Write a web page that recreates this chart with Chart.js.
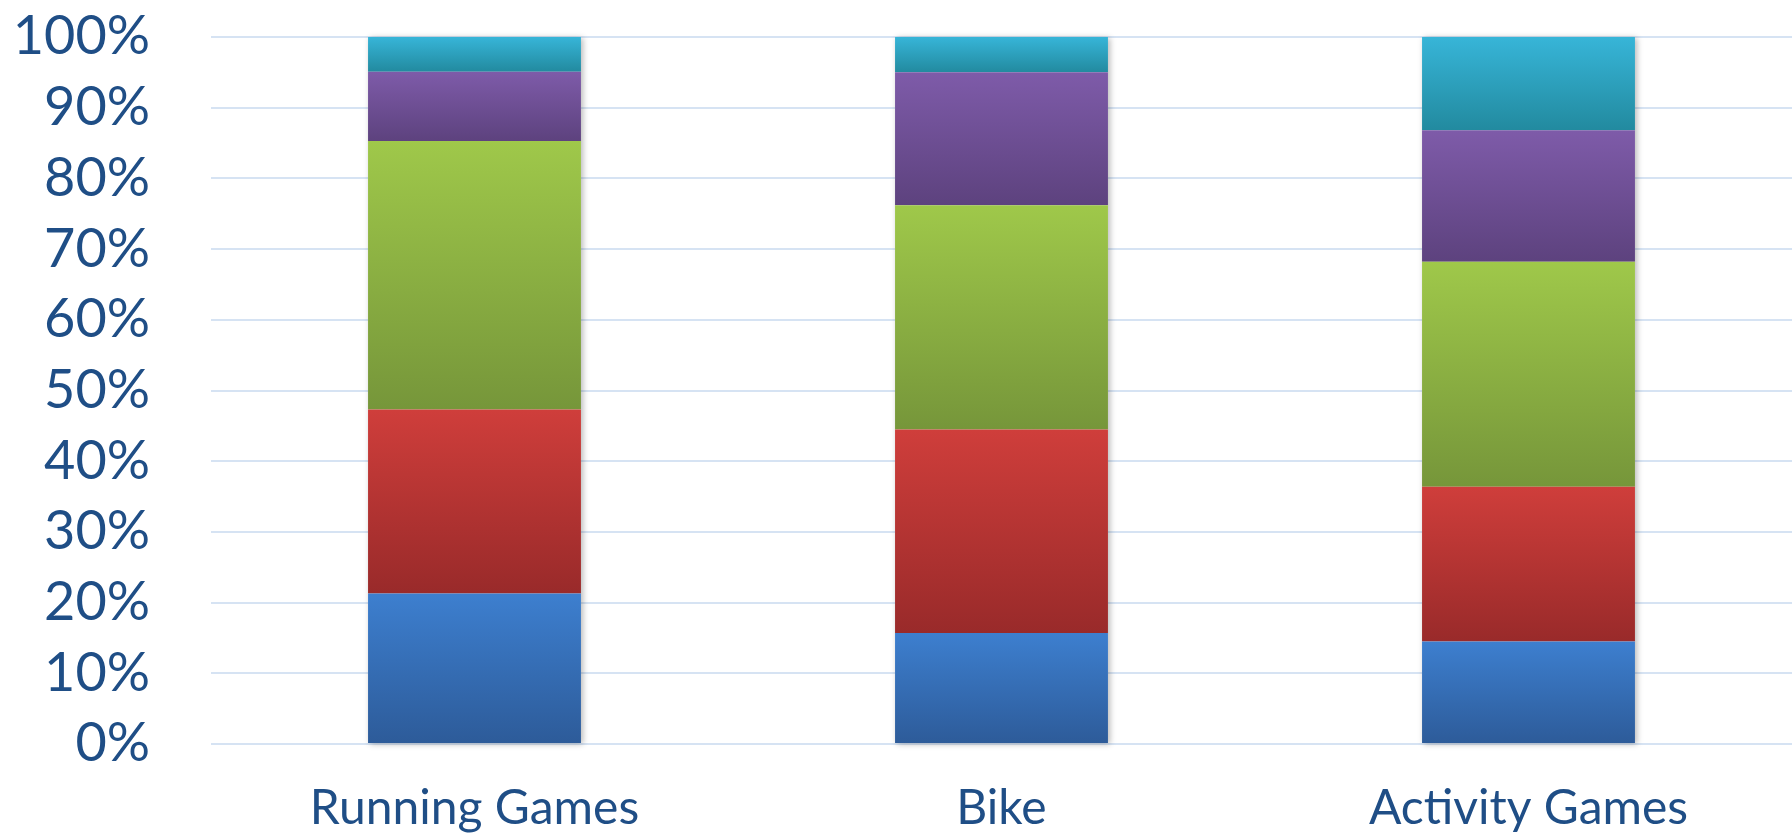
<!DOCTYPE html>
<html>
<head>
<meta charset="utf-8">
<script src="https://cdn.jsdelivr.net/npm/chart.js@4/dist/chart.umd.min.js"></script>
<style>
  html, body { margin: 0; padding: 0; background: #ffffff; }
  #wrap { width: 1792px; height: 840px; }
</style>
</head>
<body>
<div id="wrap"><canvas id="c" width="1792" height="840"></canvas></div>
<script>
// ---- data ----
const categories = ["Running Games", "Bike", "Activity Games"];
const seriesBlue   = [21.3, 15.7, 14.5];
const seriesRed    = [26.0, 28.8, 21.9];
const seriesGreen  = [38.0, 31.7, 31.8];
const seriesPurple = [9.8, 18.8, 18.6];
const seriesCyan   = [4.9, 5.0, 13.2];
const yTickValues  = [0, 10, 20, 30, 40, 50, 60, 70, 80, 90, 100];

// ---- styles ----
const gradients = [
  ["#3d7fcf", "#2d5b99"],
  ["#cf3e3b", "#992a2a"],
  ["#9fc84a", "#76963a"],
  ["#7e5ba9", "#5d427e"],
  ["#37b5d8", "#228a9f"]
];
const allSeries = [seriesBlue, seriesRed, seriesGreen, seriesPurple, seriesCyan];
const textColor = "#1f4e86";
const gridColor = "#d6e3f3";

function makeBg(dsIndex) {
  return function (ctx) {
    const chart = ctx.chart;
    const y = chart.scales && chart.scales.y;
    if (!y || ctx.type !== 'data') return gradients[dsIndex][0];
    const i = ctx.dataIndex;
    let base = 0;
    for (let k = 0; k < dsIndex; k++) base += allSeries[k][i];
    const top = base + allSeries[dsIndex][i];
    const yTop = y.getPixelForValue(top);
    const yBot = y.getPixelForValue(base);
    if (!isFinite(yTop) || !isFinite(yBot) || yTop === yBot) return gradients[dsIndex][0];
    const g = chart.ctx.createLinearGradient(0, yTop, 0, yBot);
    g.addColorStop(0, gradients[dsIndex][0]);
    g.addColorStop(1, gradients[dsIndex][1]);
    return g;
  };
}

const datasets = allSeries.map((s, idx) => ({
  label: "S" + (idx + 1),
  data: s,
  backgroundColor: makeBg(idx),
  borderWidth: 0,
  categoryPercentage: 1.0,
  barPercentage: 0.404
}));

const shadowPlugin = {
  id: 'stackShadow',
  beforeDatasetsDraw(chart) {
    const ctx = chart.ctx;
    const first = chart.getDatasetMeta(0).data;
    const last = chart.getDatasetMeta(datasets.length - 1).data;
    ctx.save();
    ctx.shadowColor = 'rgba(0,0,0,0.28)';
    ctx.shadowBlur = 6;
    ctx.shadowOffsetX = 2;
    ctx.shadowOffsetY = 1;
    ctx.fillStyle = '#ffffff';
    for (let i = 0; i < first.length; i++) {
      const b = first[i].getProps(['x', 'width', 'base'], true);
      const t = last[i].getProps(['y'], true);
      ctx.fillRect(b.x - b.width / 2, t.y, b.width, b.base - t.y);
    }
    ctx.restore();
  }
};

new Chart(document.getElementById('c'), {
  type: 'bar',
  data: { labels: categories, datasets: datasets },
  plugins: [shadowPlugin],
  options: {
    responsive: false,
    animation: false,
    layout: { padding: { top: 37, right: 0, bottom: 0, left: 0 } },
    plugins: { legend: { display: false }, tooltip: { enabled: false } },
    scales: {
      x: {
        stacked: true,
        grid: { display: false, drawTicks: false },
        border: { display: false },
        ticks: {
          color: textColor,
          font: { family: 'Lato', size: 48 },
          padding: 36,
          maxRotation: 0
        },
        afterFit(scale) { scale.height = 96; scale.paddingLeft = 0; scale.paddingRight = 0; }
      },
      y: {
        stacked: true,
        min: 0,
        max: 100,
        afterBuildTicks(scale) { scale.ticks = yTickValues.map(v => ({ value: v })); },
        grid: { color: gridColor, lineWidth: 2, drawTicks: false },
        border: { display: false },
        ticks: {
          color: textColor,
          font: { family: 'Lato', size: 54 },
          padding: 61,
          autoSkip: false,
          callback: (v) => v + '%'
        },
        afterFit(scale) { scale.width = 211; scale.paddingTop = 0; scale.paddingBottom = 0; }
      }
    }
  }
});
</script>
</body>
</html>
